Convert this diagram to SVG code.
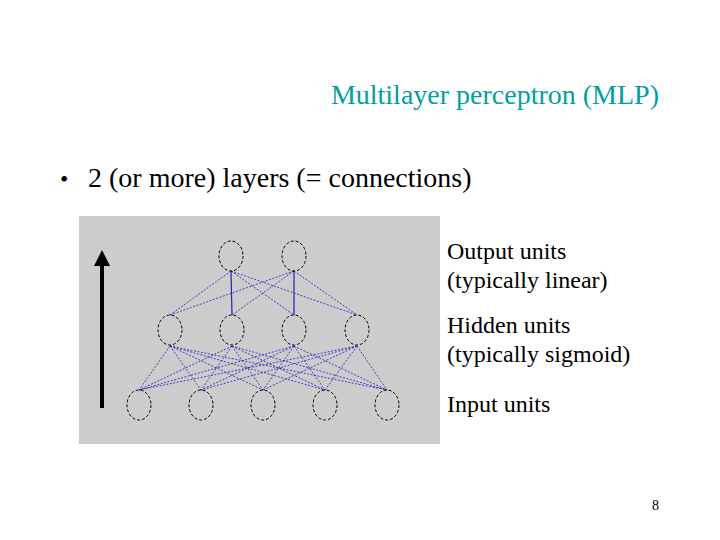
<svg xmlns="http://www.w3.org/2000/svg" width="720" height="540" viewBox="0 0 720 540">
<style>
.t{font-family:"Liberation Serif",serif;fill:#000}
.n{fill:none;stroke:#000;stroke-width:1;stroke-dasharray:3,2}
.c{stroke:#2020c0;stroke-width:0.8;stroke-dasharray:2,1.5}
.s{stroke:#2020c0;stroke-width:1.2}
</style>
<defs><marker id="ah" markerWidth="4" markerHeight="4" refX="2" refY="2" orient="auto" markerUnits="strokeWidth"><path d="M0,0L4,2L0,4z" fill="#000"/></marker></defs>
<rect width="720" height="540" fill="#fff"/>
<text class="t" x="659" y="104" text-anchor="end" font-size="28" style="fill:#00a0a0">Multilayer perceptron (MLP)</text>
<text class="t" x="60" y="187" font-size="24">•</text>
<text class="t" x="88" y="187" font-size="28">2 (or more) layers (= connections)</text>
<rect x="79" y="216" width="361" height="228" fill="#cccccc"/>
<line x1="102" y1="408" x2="102" y2="258" stroke="#000" stroke-width="4" marker-end="url(#ah)"/>
<g id="connectors">
<line class="s" x1="231" y1="271" x2="232" y2="315"/><line class="s" x1="294" y1="271" x2="294" y2="315"/>
<line class="c" x1="231" y1="271" x2="170" y2="315"/><line class="c" x1="231" y1="271" x2="294" y2="315"/><line class="c" x1="231" y1="271" x2="357" y2="315"/>
<line class="c" x1="294" y1="271" x2="170" y2="315"/><line class="c" x1="294" y1="271" x2="232" y2="315"/><line class="c" x1="294" y1="271" x2="357" y2="315"/>
<g class="c">
<line x1="170" y1="346" x2="139" y2="390"/><line x1="170" y1="346" x2="201" y2="390"/><line x1="170" y1="346" x2="263" y2="390"/><line x1="170" y1="346" x2="325" y2="390"/><line x1="170" y1="346" x2="387" y2="390"/>
<line x1="232" y1="346" x2="139" y2="390"/><line x1="232" y1="346" x2="201" y2="390"/><line x1="232" y1="346" x2="263" y2="390"/><line x1="232" y1="346" x2="325" y2="390"/><line x1="232" y1="346" x2="387" y2="390"/>
<line x1="294" y1="346" x2="139" y2="390"/><line x1="294" y1="346" x2="201" y2="390"/><line x1="294" y1="346" x2="263" y2="390"/><line x1="294" y1="346" x2="325" y2="390"/><line x1="294" y1="346" x2="387" y2="390"/>
<line x1="357" y1="346" x2="139" y2="390"/><line x1="357" y1="346" x2="201" y2="390"/><line x1="357" y1="346" x2="263" y2="390"/><line x1="357" y1="346" x2="325" y2="390"/><line x1="357" y1="346" x2="387" y2="390"/>
</g>
</g>
<g id="o1"><ellipse class="n" cx="231" cy="256" rx="12" ry="15"/></g>
<g id="o2"><ellipse class="n" cx="294" cy="256" rx="12" ry="15"/></g>
<g id="h1"><ellipse class="n" cx="170" cy="330" rx="12" ry="15"/></g>
<g id="h2"><ellipse class="n" cx="232" cy="330" rx="12" ry="15"/></g>
<g id="h3"><ellipse class="n" cx="294" cy="330" rx="12" ry="15"/></g>
<g id="h4"><ellipse class="n" cx="357" cy="330" rx="12" ry="15"/></g>
<g id="i1"><ellipse class="n" cx="139" cy="405" rx="12" ry="15"/></g>
<g id="i2"><ellipse class="n" cx="201" cy="405" rx="12" ry="15"/></g>
<g id="i3"><ellipse class="n" cx="263" cy="405" rx="12" ry="15"/></g>
<g id="i4"><ellipse class="n" cx="325" cy="405" rx="12" ry="15"/></g>
<g id="i5"><ellipse class="n" cx="387" cy="405" rx="12" ry="15"/></g>
<text class="t" x="447" y="259" font-size="24">Output units</text>
<text class="t" x="447" y="288" font-size="24">(typically linear)</text>
<text class="t" x="447" y="333" font-size="24">Hidden units</text>
<text class="t" x="447" y="362" font-size="24">(typically sigmoid)</text>
<text class="t" x="447" y="412" font-size="24">Input units</text>
<text class="t" x="659" y="510" text-anchor="end" font-size="14">8</text>
</svg>
